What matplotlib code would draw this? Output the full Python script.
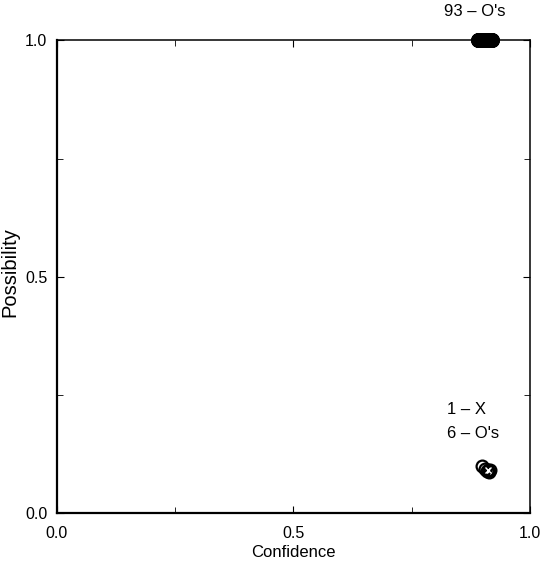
import numpy as np
import matplotlib.pyplot as plt

plt.rcParams['font.family'] = ['Liberation Sans', 'DejaVu Sans']

# 93 O's sitting at possibility 1.0
conf_top = [0.890, 0.893, 0.896, 0.899, 0.902, 0.905, 0.908, 0.911, 0.914, 0.917, 0.920]
count_top = [3, 5, 8, 11, 14, 15, 13, 10, 7, 4, 3]
poss_top = 1.0

# 6 O's and 1 X near the bottom right
conf_o = [0.899, 0.905, 0.908, 0.911, 0.913, 0.915]
poss_o = [0.099, 0.093, 0.088, 0.092, 0.086, 0.090]
conf_x = [0.911]
poss_x = [0.090]

ticks = [0.0, 0.5, 1.0]
tick_labels = ['0.0', '0.5', '1.0']
minor_ticks = [0.25, 0.75]

fig = plt.figure(figsize=(5.42, 5.66), dpi=100)
ax = fig.add_axes([0.105, 0.0936, 0.873, 0.835])

x_top = np.repeat(conf_top, count_top)
ax.plot(x_top, np.full(len(x_top), poss_top), 'o', mfc='none', mec='black',
        ms=9, mew=1.6, clip_on=False, zorder=3)
ax.plot(conf_o, poss_o, 'o', mfc='none', mec='black', ms=8.5, mew=1.6,
        clip_on=False, zorder=3)
ax.plot(conf_x, poss_x, 'x', color='white', ms=4, mew=1, zorder=4)

ax.text(0.884, 1.045, '93 – O\'s', ha='center', va='bottom', fontsize=12,
        transform=ax.transData)
ax.text(0.825, 0.218, '1 – X', ha='left', va='center', fontsize=12)
ax.text(0.825, 0.169, '6 – O\'s', ha='left', va='center', fontsize=12)

ax.set_xlim(0, 1)
ax.set_ylim(0, 1)
ax.set_xticks(ticks)
ax.set_xticklabels(tick_labels)
ax.set_yticks(ticks)
ax.set_yticklabels(tick_labels)
ax.set_xticks(minor_ticks, minor=True)
ax.set_yticks(minor_ticks, minor=True)
ax.tick_params(which='both', direction='in', top=True, right=True,
               labelsize=11.5)
ax.tick_params(axis='x', pad=9)
ax.tick_params(axis='y', pad=7)
ax.tick_params(which='major', length=5)
ax.tick_params(which='minor', length=4)

for side in ['left', 'bottom']:
    ax.spines[side].set_linewidth(1.6)
for side in ['top', 'right']:
    ax.spines[side].set_linewidth(1.1)

ax.set_xlabel('Confidence', fontsize=12, va='center')
ax.xaxis.set_label_coords(0.5, -0.0825)
ax.set_ylabel('Possibility', fontsize=14.5, va='center')
ax.yaxis.set_label_coords(-0.099, 0.51)

fig.savefig('out.png', dpi=100)
